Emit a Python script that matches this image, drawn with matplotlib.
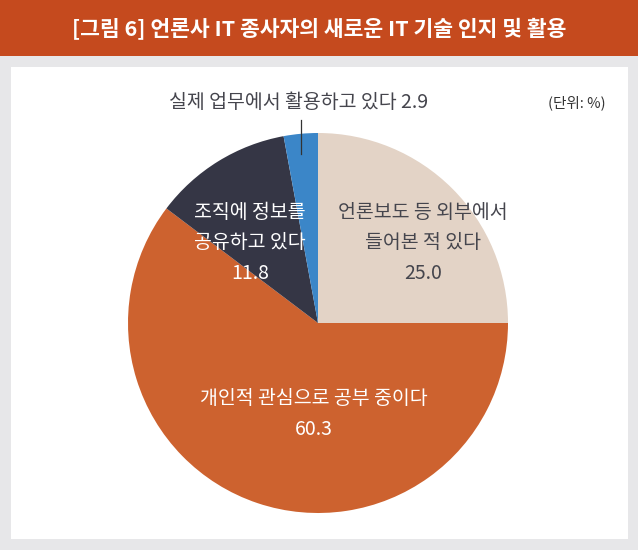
import matplotlib
matplotlib.use("Agg")
import matplotlib.pyplot as plt
import numpy as np
from matplotlib.patches import Rectangle

plt.rcParams['font.family'] = ['Noto Sans CJK KR', 'DejaVu Sans']

title = "[그림 6] 언론사 IT 종사자의 새로운 IT 기술 인지 및 활용"
categories = ["언론보도 등 외부에서\n들어본 적 있다", "개인적 관심으로 공부 중이다",
              "조직에 정보를\n공유하고 있다", "실제 업무에서 활용하고 있다"]
values = [25.0, 60.3, 11.8, 2.9]
colors = ["#e3d3c6", "#cd622f", "#353645", "#3b86c8"]
text_colors = ["#45454d", "white", "white", "#45454d"]
unit_label = "(단위: %)"

W, H = 638, 550
fig = plt.figure(figsize=(W / 100, H / 100), dpi=100)
fig.patch.set_facecolor("#e7e7e9")

# title bar and white panel
fig.patches.append(Rectangle((0, 1 - 56 / H), 1, 56 / H, transform=fig.transFigure,
                             facecolor="#c54a1e", edgecolor="none", zorder=-10))
fig.patches.append(Rectangle((11 / W, (H - 539) / H), (628 - 11) / W, (539 - 67) / H,
                             transform=fig.transFigure, facecolor="white",
                             edgecolor="none", zorder=-10))
fig.text(0.5, 1 - 29 / H, title, color="white", fontsize=15.5, fontweight="bold",
         ha="center", va="center")

# pie axes: center (318, 323) px, radius 190 px
cx, cy, R = 318, 323, 190
ax = fig.add_axes([(cx - R) / W, (H - cy - R) / H, 2 * R / W, 2 * R / H])
ax.set_facecolor("none")
wedges, _ = ax.pie(values, colors=colors, startangle=90, counterclock=False,
                   radius=1.0, wedgeprops=dict(linewidth=0))
ax.set_xlim(-1, 1)
ax.set_ylim(-1, 1)
ax.set_aspect("equal")
ax.axis("off")

def px2d(px, py):
    return (px - cx) / R, (cy - py) / R

fs = 14
# inside labels
inside_pos = [(423, 243), (314, 414), (250, 243)]
for i, (px, py) in enumerate(inside_pos):
    x, y = px2d(px, py)
    ax.text(x, y, f"{categories[i]}\n{values[i]:.1f}", ha="center", va="center",
            color=text_colors[i], fontsize=fs, linespacing=1.6)

# outside label for the small slice with vertical leader line
w = wedges[3]
mid = np.deg2rad((w.theta1 + w.theta2) / 2)
lx = np.cos(mid)
ax.plot([lx, lx], [0.89, 1.07], color="#333333", linewidth=0.9, clip_on=False)
x, y = px2d(299, 103)
ax.text(x, y, f"{categories[3]} {values[3]:.1f}", ha="center", va="center",
        color=text_colors[3], fontsize=fs, clip_on=False)

fig.text(577 / W, 1 - 103 / H, unit_label, ha="center", va="center",
         color="#333333", fontsize=10.5)

fig.savefig("out.png", dpi=100, facecolor=fig.get_facecolor())
